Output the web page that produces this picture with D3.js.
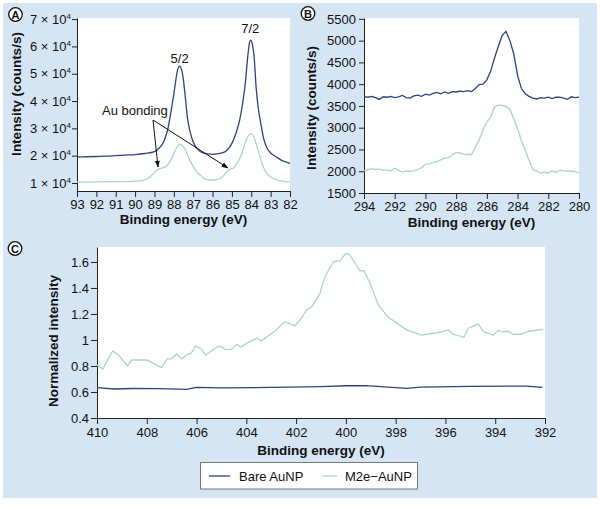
<!DOCTYPE html>
<html><head><meta charset="utf-8">
<script src="https://cdn.jsdelivr.net/npm/d3@7"></script>
<style>
body{margin:0;background:#fff;}
text{font-family:"Liberation Sans",Arial,sans-serif;}
</style></head>
<body><svg id="c" width="600" height="508"></svg>
<script>
// ---------- DATA ----------
// Panel A: Au 4f (x = binding energy eV, y in units of 1e4 counts/s)
const aBareX = [93,92.5,92,91.5,91,90.5,90,89.5,89,88.75,88.5,88.3,88.15,88,87.9,87.8,87.7,87.6,87.5,87.4,87.3,87.15,87,86.75,86.5,86,85.5,85.25,85,84.8,84.6,84.45,84.3,84.2,84.1,84.03,83.95,83.85,83.75,83.65,83.5,83.35,83.2,83,82.7,82.4,82];
const aBareY = [1.95,1.96,1.97,1.98,2.0,2.02,2.04,2.08,2.15,2.28,2.55,3.0,3.6,4.25,4.75,5.15,5.28,5.15,4.75,4.1,3.4,2.85,2.5,2.22,2.1,2.05,2.1,2.2,2.45,2.8,3.3,3.9,4.7,5.5,6.1,6.23,6.1,5.6,4.5,3.8,3.15,2.6,2.3,2.1,1.95,1.82,1.72];
const aM2eX = [93,92,91,90,89.6,89.23,89,88.8,88.6,88.37,88.2,88.03,87.85,87.68,87.5,87.33,87.15,86.99,86.8,86.65,86.4,86.13,85.8,85.5,85.3,85.1,84.9,84.75,84.5,84.3,84.15,84,83.85,83.7,83.55,83.38,83.2,83,82.7,82.4,82];
const aM2eY = [1.03,1.04,1.05,1.07,1.1,1.22,1.38,1.5,1.55,1.62,1.78,2.02,2.3,2.41,2.33,2.08,1.8,1.59,1.4,1.29,1.15,1.1,1.12,1.22,1.38,1.5,1.56,1.71,2.05,2.5,2.73,2.81,2.65,2.32,1.95,1.59,1.35,1.22,1.12,1.07,1.04];
const aXTicks = [93,92,91,90,89,88,87,86,85,84,83,82];
const aYTicks = [1,2,3,4,5,6,7];

// Panel B: C 1s (counts/s)
const bX = [294,293.75,293.5,293.25,293,292.75,292.5,292.25,292,291.75,291.5,291.25,291,290.75,290.5,290.25,290,289.75,289.5,289.25,289,288.75,288.5,288.25,288,287.75,287.5,287.25,287,286.75,286.5,286.25,286,285.75,285.5,285.25,285,284.75,284.5,284.25,284,283.75,283.5,283.25,283,282.75,282.5,282.25,282,281.75,281.5,281.25,281,280.75,280.5,280.25,280];
const bBareY = [3714,3700,3720,3690,3650,3710,3700,3720,3690,3710,3740,3690,3680,3730,3750,3720,3770,3750,3790,3810,3780,3820,3790,3830,3820,3840,3830,3850,3830,3900,3990,4000,4100,4300,4600,4870,5120,5210,5000,4700,4200,3900,3780,3720,3680,3660,3690,3680,3700,3670,3700,3700,3680,3650,3710,3690,3700];
const bM2eY = [2010,2030,2060,2040,2050,2020,2030,2010,2070,2020,1980,2000,2000,2010,2040,2080,2160,2170,2200,2220,2260,2300,2310,2380,2430,2420,2380,2390,2380,2550,2720,2950,3130,3250,3480,3520,3510,3490,3420,3200,2980,2700,2480,2250,2030,2010,1960,1980,1960,2010,1970,2030,2010,2000,2010,1990,1960];
const bXTicks = [294,292,290,288,286,284,282,280];
const bYTicks = [1500,2000,2500,3000,3500,4000,4500,5000,5500];

// Panel C: N 1s normalized intensity
const cBareX = [410,409.3,408.6,407.5,406.4,406,405,403,401,400,399.2,398.3,397.56,397,395,393.3,392.74,392.1];
const cBareY = [0.633,0.623,0.627,0.626,0.62,0.635,0.632,0.635,0.642,0.648,0.649,0.638,0.628,0.638,0.643,0.645,0.645,0.636];
const cM2eX = [410,409.77,409.37,409.14,408.78,408.6,408,407.4,407.18,407,406.8,406.6,406.4,406.22,406.03,405.83,405.63,405.19,405.06,404.86,404.59,404.39,404.23,403.99,403.59,403.39,402.85,402.45,402.05,401.82,401.58,401.37,401.04,400.84,400.5,400.24,400,399.84,399.44,399.28,399.03,398.7,398.3,398.03,397.56,396.96,396.69,396.29,395.89,395.69,395.26,395.08,394.68,394.48,394.08,393.88,393.7,393.48,393.28,393,392.6,392.07];
const cM2eY = [0.808,0.777,0.915,0.885,0.8,0.846,0.846,0.787,0.854,0.854,0.892,0.854,0.885,0.898,0.954,0.933,0.885,0.944,0.954,0.928,0.928,0.967,0.944,0.974,1.013,0.992,1.069,1.141,1.108,1.159,1.231,1.256,1.359,1.487,1.602,1.608,1.667,1.654,1.531,1.533,1.436,1.269,1.175,1.141,1.077,1.038,1.046,1.056,1.077,1.044,1.021,1.09,1.123,1.064,1.038,1.072,1.062,1.067,1.044,1.044,1.069,1.082];
const cXTicks = [410,408,406,404,402,400,398,396,394,392];
const cYTicks = [0.4,0.6,0.8,1,1.2,1.4,1.6];

const seriesNames = ["Bare AuNP","M2e\u2212AuNP"];
const colors = ["#2e4383","#a9d6c6"];

// ---------- DRAW ----------
const svg = d3.select("#c");
svg.append("rect").attr("x",3).attr("y",3).attr("width",594).attr("height",495).attr("fill","#d6e5f4");

const defs = svg.append("defs");
defs.append("marker").attr("id","arr").attr("viewBox","0 0 10 10").attr("refX",9).attr("refY",5)
  .attr("markerWidth",7).attr("markerHeight",7).attr("orient","auto")
  .append("path").attr("d","M0,1.5 L10,5 L0,8.5 Z").attr("fill","#111");

function panel(o){
  const g = svg.append("g");
  g.append("rect").attr("x",o.x0).attr("y",o.y1).attr("width",o.x1-o.x0).attr("height",o.y0-o.y1).attr("fill","#fff");
  const x = d3.scaleLinear().domain(o.xd).range([o.x0,o.x1]);
  const y = d3.scaleLinear().domain(o.yd).range([o.y0,o.y1]);
  const xa = g.append("g").attr("transform",`translate(0,${o.y0})`)
    .call(d3.axisBottom(x).tickValues(o.xt).tickSize(6).tickSizeOuter(0).tickPadding(o.xpad).tickFormat(d3.format("d")));
  const ya = g.append("g").attr("transform",`translate(${o.x0},0)`)
    .call(d3.axisLeft(y).tickValues(o.yt).tickSize(o.ytick).tickSizeOuter(0).tickPadding(o.ypad).tickFormat(o.yf||(d=>d)));
  [xa,ya].forEach(a=>{
    a.selectAll("path,line").attr("stroke","#222").attr("stroke-width",1);
    a.selectAll("text").attr("font-size",13).attr("fill","#111").style("font-family","'Liberation Sans',Arial,sans-serif");
  });
  if(o.sup){
    ya.selectAll(".tick text").text(null).each(function(d){
      const t=d3.select(this);
      t.append("tspan").text(d+" \u00d7 10");
      t.append("tspan").attr("font-size",8).attr("dy",-5).text("4");
    });
  }
  o.series.forEach((s,i)=>{
    const line = d3.line().x((d,j)=>x(s.x[j])).y((d,j)=>y(s.y[j])).curve(o.curve||d3.curveMonotoneX);
    g.append("path").datum(s.y).attr("d",line).attr("fill","none").attr("stroke",colors[s.c]).attr("stroke-width",1.3);
  });
  g.append("text").attr("x",(o.x0+o.x1)/2).attr("y",o.xlabY).attr("text-anchor","middle")
    .attr("font-size",13.5).attr("font-weight","bold").attr("fill","#111").text("Binding energy (eV)");
  g.append("text").attr("transform",`translate(${o.ylabX},${o.ylabC}) rotate(-90)`).attr("text-anchor","middle")
    .attr("font-size",13.5).attr("font-weight","bold").attr("fill","#111").text(o.ylab);
  // panel letter
  g.append("circle").attr("cx",o.lx).attr("cy",o.ly).attr("r",6.8).attr("fill","#fff").attr("stroke","#111").attr("stroke-width",1.3);
  g.append("text").attr("x",o.lx).attr("y",o.ly+4).attr("text-anchor","middle").attr("font-size",11).attr("font-weight","bold").attr("fill","#111").text(o.letter);
  return {g,x,y};
}

const A = panel({x0:77,x1:290,y0:191,y1:18,xd:[93,82],yd:[0.707,7.04],xt:aXTicks,yt:aYTicks,ytick:5,ypad:1,xpad:3,sup:true,
  series:[{x:aBareX,y:aBareY,c:0},{x:aM2eX,y:aM2eY,c:1}],xlabY:224,ylab:"Intensity (counts/s)",ylabX:21,ylabC:94,lx:15.5,ly:14.5,letter:"A"});
// annotations A
A.g.append("text").attr("x",A.x(87.7)).attr("y",63).attr("text-anchor","middle").attr("font-size",13).attr("fill","#111").text("5/2");
A.g.append("text").attr("x",A.x(84.05)).attr("y",33).attr("text-anchor","middle").attr("font-size",13).attr("fill","#111").text("7/2");
A.g.append("text").attr("x",102).attr("y",115).attr("font-size",13).attr("fill","#111").text("Au bonding");
A.g.append("line").attr("x1",153).attr("y1",120).attr("x2",158).attr("y2",167).attr("stroke","#111").attr("stroke-width",1).attr("marker-end","url(#arr)");
A.g.append("line").attr("x1",153).attr("y1",120).attr("x2",228).attr("y2",168).attr("stroke","#111").attr("stroke-width",1).attr("marker-end","url(#arr)");

panel({x0:364,x1:579,y0:193,y1:18,xd:[294,280],yd:[1500,5520],xt:bXTicks,yt:bYTicks,ytick:5,ypad:3,xpad:3,
  series:[{x:bX,y:bBareY,c:0},{x:bX,y:bM2eY,c:1}],xlabY:227,ylab:"Intensity (counts/s)",ylabX:316,ylabC:108,lx:308,ly:13.5,letter:"B",curve:d3.curveLinear});

panel({x0:97,x1:545,y0:418,y1:247,xd:[410,392],yd:[0.4,1.715],xt:cXTicks,yt:cYTicks,ytick:6,ypad:2,xpad:4,
  series:[{x:cBareX,y:cBareY,c:0},{x:cM2eX,y:cM2eY,c:1}],curve:d3.curveLinear,
  xlabY:455,ylab:"Normalized intensity",ylabX:58,ylabC:341,lx:15,ly:248.5,letter:"C"});

// legend
const lg = svg.append("g");
lg.append("rect").attr("x",200.5).attr("y",462.5).attr("width",217).attr("height",26.5).attr("fill","#fff").attr("stroke","#777").attr("stroke-width",1);
[[209,230,239],[323,337,345]].forEach((p,i)=>{
  lg.append("line").attr("x1",p[0]).attr("x2",p[1]).attr("y1",476).attr("y2",476).attr("stroke",colors[i]).attr("stroke-width",1.3);
  lg.append("text").attr("x",p[2]).attr("y",480.5).attr("font-size",13).attr("fill","#111").text(seriesNames[i]);
});
</script></body></html>
